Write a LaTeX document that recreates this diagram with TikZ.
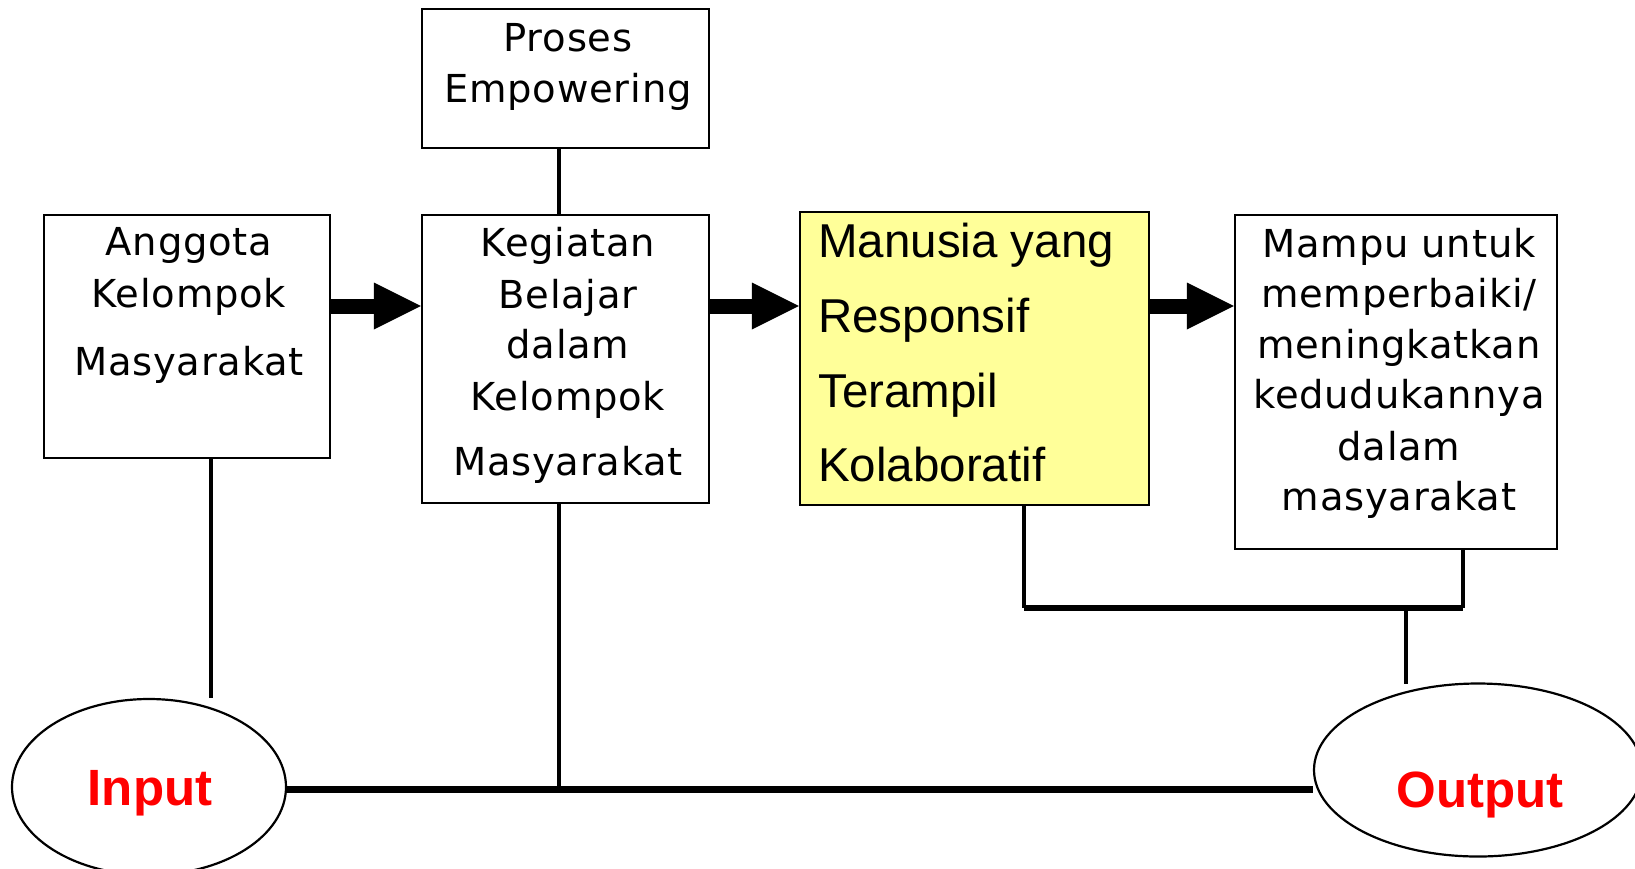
\documentclass[tikz,border=0pt]{standalone}
\usepackage{fontspec}
\setmainfont{DejaVu Sans}
\newfontfamily\boxfont[LetterSpace=2]{DejaVu Sans}
\newfontfamily\arialfont{Liberation Sans}
\usetikzlibrary{arrows.meta,shapes.geometric,calc}
\definecolor{paleyellow}{HTML}{FFFF99}
\definecolor{outred}{HTML}{FF0000}
\begin{document}
\begin{tikzpicture}[x=1pt,y=-1pt,
  box/.style={draw=black, line width=2.2pt, inner sep=0pt},
  boxtxt/.style={anchor=base, inner sep=0pt, font=\boxfont\fontsize{38.5}{44}\selectfont},
  mantxt/.style={anchor=base west, inner sep=0pt, font=\arialfont\fontsize{47.5}{55}\selectfont},
  oval/.style={draw=black, ellipse, line width=2.2pt, inner sep=0pt},
  iotxt/.style={anchor=base, inner sep=0pt, text=outred, font=\arialfont\bfseries\fontsize{51}{60}\selectfont},
  link/.style={line width=4pt},
  bus/.style={line width=7pt},
  joinline/.style={line width=6pt},
  bigarrow/.style={line width=15pt, -{Triangle[length=47pt,width=47pt,line width=0pt]}}
]
\useasboundingbox (0,0) rectangle (1635,868);
\fill[white] (0,0) rectangle (1635,868);

% boxes
\node[box, minimum width=287pt, minimum height=139pt] (pro) at (565.5,78.5) {};
\node[box, minimum width=286pt, minimum height=243pt] (ang) at (187,336.5) {};
\node[box, minimum width=287pt, minimum height=288pt] (keg) at (565.5,359) {};
\node[box, fill=paleyellow, minimum width=349pt, minimum height=293pt] (man) at (974.5,358.5) {};
\node[box, minimum width=322pt, minimum height=334pt] (mam) at (1396,382) {};

% ellipses
\node[oval, minimum width=274pt, minimum height=176pt] (in) at (149,787) {};
\node[oval, minimum width=328pt, minimum height=173pt] (out) at (1478,770) {};

% texts
\foreach \yy/\ww [count=\i] in {51/Proses,102/Empowering}
  \node[boxtxt] (pro-\i) at (568,\yy) {\ww};
\foreach \yy/\ww [count=\i] in {255/Anggota,307/Kelompok,375/Masyarakat}
  \node[boxtxt] (ang-\i) at (189,\yy) {\ww};
\foreach \yy/\ww [count=\i] in {256.5/Kegiatan,308.5/Belajar,358.5/dalam,410.5/Kelompok,475.5/Masyarakat}
  \node[boxtxt] (keg-\i) at (568,\yy) {\ww};
\foreach \yy/\ww [count=\i] in {257.5/{Manusia yang},332/Responsif,407/Terampil,481/Kolaboratif}
  \node[mantxt] (man-\i) at (818,\yy) {\ww};
\foreach \yy/\ww [count=\i] in {257/{Mampu untuk},307/{memperbaiki/},358/meningkatkan,408/kedudukannya,460/dalam,510/masyarakat}
  \node[boxtxt] (mam-\i) at (1399,\yy) {\ww};
\node[iotxt] (in-t) at (150,805) {Input};
\node[iotxt] (out-t) at (1480,807) {Output};

% helper coordinates
\coordinate (xk) at (559,0);
\coordinate (xa) at (211,0);
\coordinate (ia) at (211,698);
\coordinate (bus) at (0,789);
\coordinate (xm) at (1024,0);
\coordinate (xp) at (1463,0);
\coordinate (jn) at (0,608);
\coordinate (xo) at (1406,0);
\coordinate (ot) at (1406,684);
\coordinate (ay) at (0,306);

% connectors
\draw[link] (pro.south -| xk) -- (keg.north -| xk);
\draw[link] (ang.south -| xa) -- (ia);
\draw[link] (keg.south -| xk) -- (xk |- bus);
\draw[bus] (in.east |- bus) -- (out.west |- bus);
\draw[link] (man.south -| xm) -- (xm |- jn);
\draw[link] (mam.south -| xp) -- (xp |- jn);
\draw[joinline] (xm |- jn) -- (xp |- jn);
\draw[link] (xo |- jn) -- (ot);

% block arrows
\draw[bigarrow] (ang.east |- ay) -- (keg.west |- ay);
\draw[bigarrow] (keg.east |- ay) -- (man.west |- ay);
\draw[bigarrow] (man.east |- ay) -- (mam.west |- ay);
\end{tikzpicture}
\end{document}
